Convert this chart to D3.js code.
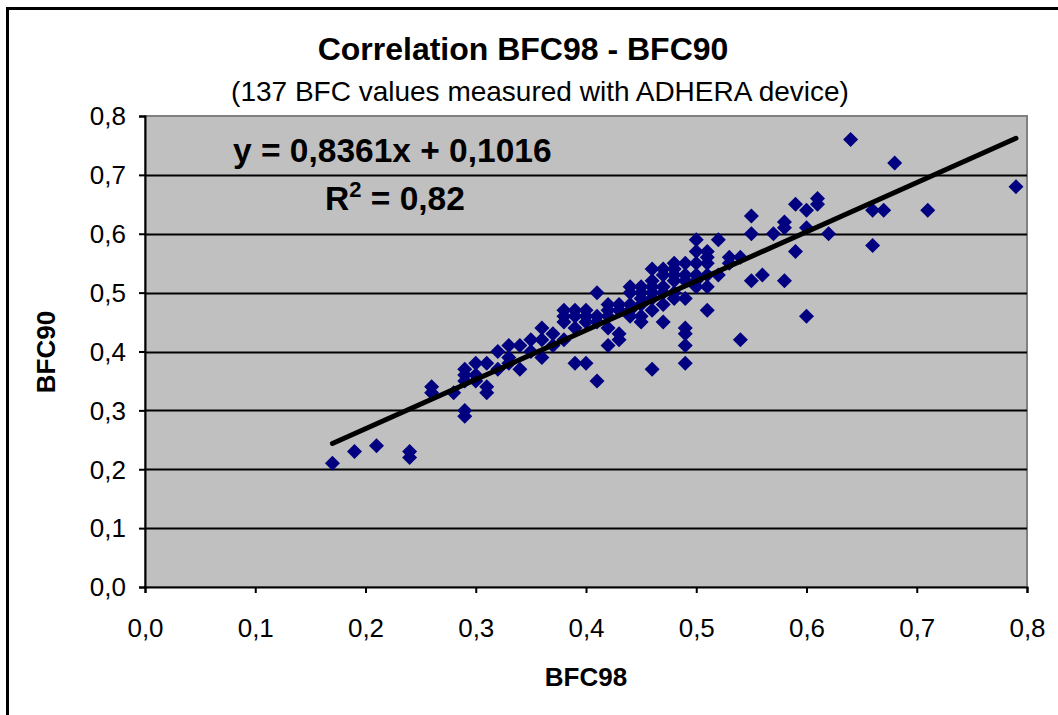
<!DOCTYPE html>
<html>
<head>
<meta charset="utf-8">
<script src="https://cdn.jsdelivr.net/npm/d3@7"></script>
<style>
  body { margin: 0; background: #fff; }
  svg text { font-family: "Liberation Sans", Arial, sans-serif; }
</style>
</head>
<body>
<div class="chart"></div>
<script>
// BFC98 (x) vs BFC90 (y)
var bfc98 = [0.17,0.19,0.21,0.24,0.24,0.26,0.26,0.28,0.29,0.29,0.29,0.29,0.29,0.30,0.30,0.30,0.31,0.31,0.31,0.32,
  0.33,0.33,0.34,0.34,0.35,0.36,0.36,0.36,0.37,0.38,0.38,0.38,0.38,0.39,0.39,0.39,0.39,0.40,0.40,0.41,
  0.41,0.41,0.42,0.42,0.43,0.43,0.43,0.44,0.44,0.45,0.45,0.45,0.45,0.46,0.46,0.46,0.46,0.46,0.47,0.47,
  0.47,0.47,0.48,0.48,0.48,0.49,0.49,0.49,0.49,0.49,0.49,0.50,0.50,0.50,0.51,0.51,0.51,0.51,0.51,0.51,
  0.52,0.52,0.53,0.53,0.54,0.54,0.55,0.55,0.55,0.56,0.57,0.58,0.58,0.58,0.59,0.59,0.60,0.60,0.60,0.61,
  0.61,0.62,0.64,0.66,0.66,0.67,0.68,0.71,0.79,0.40,0.41,0.42,0.42,0.43,0.44,0.44,0.45,0.45,0.46,0.46,
  0.47,0.47,0.48,0.48,0.48,0.49,0.49,0.50,0.50,0.50,0.37,0.35,0.33,0.32,0.40,0.42,0.44];
var bfc90 = [0.21,0.23,0.24,0.23,0.22,0.33,0.34,0.33,0.30,0.29,0.35,0.36,0.37,0.35,0.38,0.36,0.33,0.34,0.38,0.40,
  0.41,0.39,0.41,0.37,0.42,0.42,0.39,0.44,0.43,0.42,0.46,0.47,0.45,0.46,0.47,0.44,0.38,0.47,0.38,0.35,
  0.50,0.46,0.48,0.41,0.48,0.42,0.43,0.51,0.50,0.51,0.50,0.46,0.45,0.51,0.50,0.54,0.47,0.37,0.54,0.53,
  0.48,0.45,0.54,0.55,0.49,0.55,0.49,0.44,0.43,0.41,0.38,0.59,0.57,0.51,0.57,0.55,0.56,0.53,0.51,0.47,
  0.59,0.53,0.56,0.55,0.56,0.42,0.63,0.60,0.52,0.53,0.60,0.62,0.61,0.52,0.65,0.57,0.64,0.61,0.46,0.66,
  0.65,0.60,0.76,0.64,0.58,0.64,0.72,0.64,0.68,0.46,0.45,0.46,0.47,0.47,0.48,0.46,0.48,0.49,0.49,0.52,
  0.50,0.51,0.50,0.52,0.53,0.52,0.53,0.52,0.55,0.53,0.41,0.40,0.38,0.37,0.45,0.44,0.47];

var xTicks = [0, 0.1, 0.2, 0.3, 0.4, 0.5, 0.6, 0.7, 0.8];
var yTicks = [0, 0.1, 0.2, 0.3, 0.4, 0.5, 0.6, 0.7, 0.8];
var slope = 0.8361, intercept = 0.1016;
var trendRange = [0.17, 0.79];

var svgWidth = 1058, svgHeight = 715;
var plot = {left: 145, top: 116, right: 1027, bottom: 587};

var comma = d3.formatLocale({decimal: ",", thousands: ".", grouping: [3], currency: ["", ""]}).format(".1f");

var svg = d3.select(".chart").append("svg")
  .attr("width", svgWidth)
  .attr("height", svgHeight);

// outer chart frame
svg.append("rect")
  .attr("x", 7.5).attr("y", 8.5)
  .attr("width", svgWidth + 10).attr("height", svgHeight + 10)
  .attr("fill", "#fff").attr("stroke", "#000").attr("stroke-width", 3);

var x = d3.scaleLinear().domain([0, 0.8]).range([plot.left, plot.right]);
var y = d3.scaleLinear().domain([0, 0.8]).range([plot.bottom, plot.top]);

svg.append("rect")
  .attr("x", plot.left).attr("y", plot.top)
  .attr("width", plot.right - plot.left).attr("height", plot.bottom - plot.top)
  .attr("fill", "#c0c0c0").attr("stroke", "#808080").attr("stroke-width", 2);

// gridlines
svg.append("g").selectAll("line")
  .data(yTicks.filter(function(d) { return d > 0 && d < 0.8; }))
  .enter().append("line")
  .attr("x1", plot.left).attr("x2", plot.right)
  .attr("y1", function(d) { return Math.round(y(d)) + 0.5; })
  .attr("y2", function(d) { return Math.round(y(d)) + 0.5; })
  .attr("stroke", "#000").attr("stroke-width", 2);

// axes
var xAxis = d3.axisBottom(x).tickValues(xTicks).tickFormat(comma).tickSize(6).tickPadding(26);
var gx = svg.append("g")
  .attr("transform", "translate(0," + plot.bottom + ")")
  .call(xAxis);
var yAxis = d3.axisLeft(y).tickValues(yTicks).tickFormat(comma).tickSize(6).tickPadding(13);
var gy = svg.append("g")
  .attr("transform", "translate(" + plot.left + ",0)")
  .call(yAxis);
[gx, gy].forEach(function(g) {
  g.select(".domain").attr("stroke", "#000").attr("stroke-width", 2);
  g.selectAll(".tick line").attr("stroke", "#000").attr("stroke-width", 2);
  g.selectAll(".tick text").attr("fill", "#000").style("font-size", "26px")
    .style("font-family", "'Liberation Sans', Arial, sans-serif");
});
gy.selectAll(".tick text").attr("dy", "0.34em");

// points
var r = 7.5;
var diamond = "M0," + (-r) + "L" + r + ",0L0," + r + "L" + (-r) + ",0Z";
svg.append("g").selectAll("path")
  .data(bfc98.map(function(d, i) { return [d, bfc90[i]]; }))
  .enter().append("path")
  .attr("d", diamond)
  .attr("transform", function(d) { return "translate(" + x(d[0]) + "," + y(d[1]) + ")"; })
  .attr("fill", "#000080");

// trend line
svg.append("line")
  .attr("x1", x(trendRange[0])).attr("y1", y(slope * trendRange[0] + intercept))
  .attr("x2", x(trendRange[1])).attr("y2", y(slope * trendRange[1] + intercept))
  .attr("stroke", "#000").attr("stroke-width", 5).attr("stroke-linecap", "round");

// texts
svg.append("text").attr("x", 523).attr("y", 60).attr("text-anchor", "middle")
  .style("font-size", "32px").style("font-weight", "bold").text("Correlation BFC98 - BFC90");
svg.append("text").attr("x", 540).attr("y", 101).attr("text-anchor", "middle")
  .style("font-size", "28px").text("(137 BFC values measured with ADHERA device)");

svg.append("text").attr("x", 233).attr("y", 162)
  .style("font-size", "33.5px").style("font-weight", "bold").text("y = 0,8361x + 0,1016");
var r2 = svg.append("text").attr("x", 325).attr("y", 210)
  .style("font-size", "33.5px").style("font-weight", "bold");
r2.append("tspan").text("R");
r2.append("tspan").attr("dy", -13).style("font-size", "22px").text("2");
r2.append("tspan").attr("dy", 13).text(" = 0,82");

svg.append("text").attr("x", 586).attr("y", 686).attr("text-anchor", "middle")
  .style("font-size", "26px").style("font-weight", "bold").text("BFC98");
svg.append("text").attr("transform", "translate(55,352) rotate(-90)").attr("text-anchor", "middle")
  .style("font-size", "26px").style("font-weight", "bold").text("BFC90");
</script>
</body>
</html>
